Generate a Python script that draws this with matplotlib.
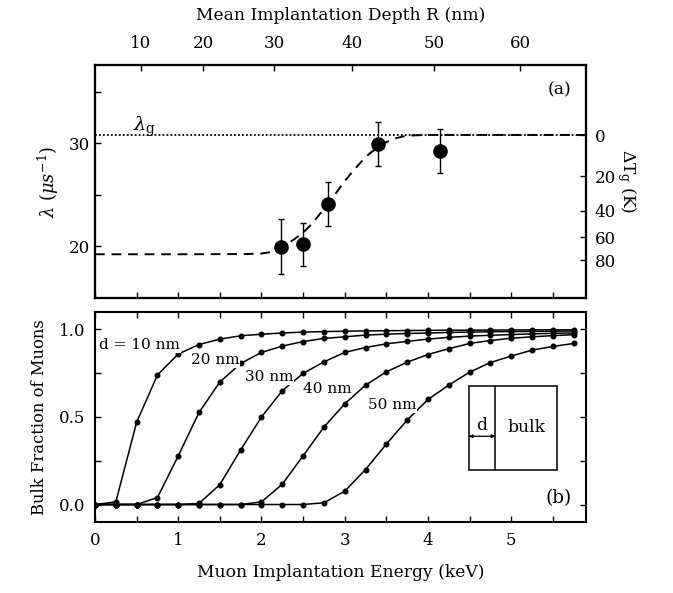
import numpy as np
import matplotlib
matplotlib.use('Agg')
import matplotlib.pyplot as plt
from matplotlib.patches import Rectangle
from matplotlib.ticker import MultipleLocator, FixedLocator, NullFormatter

plt.rcParams['font.family'] = 'DejaVu Serif'
plt.rcParams['mathtext.fontset'] = 'dejavuserif'

# ---- panel (a): relaxation rate vs energy
energy_a = [2.24, 2.50, 2.80, 3.40, 4.14]
lam_a = [19.93, 20.15, 24.08, 29.93, 29.25]
lam_err = [2.65, 2.1, 2.1, 2.15, 2.15]

# dashed model curve
fit_e = [0.0, 1.0, 1.8, 2.0, 2.1, 2.2, 2.3, 2.4, 2.5, 2.6, 2.7, 2.8, 2.9, 3.0,
         3.1, 3.2, 3.3, 3.4, 3.5, 3.6, 3.7, 3.8, 4.0, 5.9]
fit_lam = [19.2, 19.2, 19.22, 19.27, 19.4, 19.75, 20.15, 20.7, 21.3, 22.1, 23.1,
           24.1, 25.2, 26.3, 27.3, 28.2, 29.0, 29.6, 30.1, 30.45, 30.65, 30.75,
           30.8, 30.8]
lambda_g = 30.8

# top axis: mean implantation depth
depth_ticks_e = [0.55, 1.30, 2.15, 3.09, 4.07, 5.11]
depth_labels = ['10', '20', '30', '40', '50', '60']

# right axis: Delta T_g
dT_ticks_lam = [30.78, 26.78, 23.42, 20.84, 18.64]
dT_labels = ['0', '20', '40', '60', '80']

# ---- panel (b): bulk fraction
energy_b = np.arange(24) * 0.25
frac_10 = [0, 0.015, 0.47, 0.74, 0.86, 0.914, 0.945, 0.964, 0.973, 0.98, 0.985, 0.988,
           0.99, 0.992, 0.993, 0.994, 0.995, 0.996, 0.996, 0.997, 0.997, 0.998, 0.998, 0.998]
frac_20 = [0, 0, 0, 0.04, 0.278, 0.526, 0.70, 0.806, 0.869, 0.905, 0.931, 0.949,
           0.958, 0.968, 0.973, 0.977, 0.980, 0.983, 0.985, 0.987, 0.988, 0.989, 0.99, 0.991]
frac_30 = [0, 0, 0, 0, 0, 0.006, 0.114, 0.312, 0.50, 0.65, 0.749, 0.815,
           0.869, 0.897, 0.918, 0.932, 0.945, 0.955, 0.962, 0.967, 0.971, 0.975, 0.978, 0.98]
frac_40 = [0, 0, 0, 0, 0, 0, 0, 0, 0.015, 0.116, 0.278, 0.442,
           0.575, 0.682, 0.758, 0.813, 0.857, 0.89, 0.92, 0.937, 0.95, 0.958, 0.965, 0.97]
frac_50 = [0, 0, 0, 0, 0, 0, 0, 0, 0, 0, 0, 0.01,
           0.076, 0.20, 0.345, 0.482, 0.60, 0.682, 0.756, 0.811, 0.848, 0.882, 0.903, 0.92]
curves = [frac_10, frac_20, frac_30, frac_40, frac_50]
curve_labels = ['d = 10 nm', '20 nm', '30 nm', '40 nm', '50 nm']
label_pos = [(0.05, 0.91), (1.15, 0.825), (1.80, 0.73), (2.50, 0.66), (3.28, 0.57)]

xmax = 5.9
fs_tick = 12
fs_lab = 12.3

fig = plt.figure(figsize=(6.73, 5.93), dpi=100)
ax_a = fig.add_axes([0.1412, 0.4975, 0.7296, 0.3929])
ax_b = fig.add_axes([0.1412, 0.1197, 0.7296, 0.3542])

# panel (a)
ax_a.axhline(lambda_g, color='black', ls=(0, (1, 1.2)), lw=1.3)
ax_a.plot(fit_e, fit_lam, color='black', ls=(0, (5, 3.5)), lw=1.4)
ax_a.errorbar(energy_a, lam_a, yerr=lam_err, fmt='o', color='black', ms=9.5,
              capsize=2.5, elinewidth=1.0, capthick=1.0)
ax_a.set_xlim(0, xmax)
ax_a.set_ylim(14.95, 37.6)
ax_a.yaxis.set_major_locator(FixedLocator([20, 30]))
ax_a.yaxis.set_minor_locator(FixedLocator([25, 35]))
ax_a.xaxis.set_major_locator(MultipleLocator(0.5))
ax_a.xaxis.set_major_formatter(NullFormatter())
ax_a.tick_params(which='both', direction='in', length=4, width=1,
                 top=False, right=False, labelsize=fs_tick)
ax_a.set_ylabel(r'$\lambda\ (\mu s^{-1})$', fontsize=fs_lab + 0.5, labelpad=6)
ax_a.text(0.46, 31.15, r'$\lambda_\mathrm{g}$', fontsize=14)
ax_a.text(0.97, 0.93, '(a)', transform=ax_a.transAxes, ha='right', va='top', fontsize=fs_lab)

top = ax_a.twiny()
top.set_xlim(ax_a.get_xlim())
top.set_xticks(depth_ticks_e)
top.set_xticklabels(depth_labels)
top.tick_params(direction='in', length=4, width=1, labelsize=fs_tick, pad=9)
top.set_xlabel('Mean Implantation Depth R (nm)', fontsize=fs_lab, labelpad=11)

right = ax_a.twinx()
right.set_ylim(ax_a.get_ylim())
right.set_yticks(dT_ticks_lam)
right.set_yticklabels(dT_labels)
right.tick_params(direction='in', length=4, width=1, labelsize=fs_tick, pad=6)
right.set_ylabel(r'$\Delta\mathrm{T}_\mathrm{g}$ (K)', fontsize=fs_lab, rotation=270, labelpad=16)

# panel (b)
for frac, lab, pos in zip(curves, curve_labels, label_pos):
    ax_b.plot(energy_b, frac, color='black', lw=1.1, marker='o', ms=3.3)
    ax_b.text(pos[0], pos[1], lab, fontsize=11, va='center', ha='left',
              bbox=dict(facecolor='white', edgecolor='none', pad=0.5))
ax_b.set_xlim(0, xmax)
ax_b.set_ylim(-0.1, 1.1)
ax_b.xaxis.set_major_locator(MultipleLocator(1))
ax_b.xaxis.set_minor_locator(MultipleLocator(0.5))
ax_b.yaxis.set_major_locator(MultipleLocator(0.5))
ax_b.yaxis.set_minor_locator(MultipleLocator(0.25))
ax_b.tick_params(which='both', direction='in', length=4, width=1,
                 top=True, right=True, labelsize=fs_tick, pad=7)
ax_b.set_ylabel('Bulk Fraction of Muons', fontsize=fs_lab - 0.5, labelpad=8)
ax_b.set_xlabel('Muon Implantation Energy (keV)', fontsize=fs_lab, labelpad=11)
ax_b.text(0.97, 0.07, '(b)', transform=ax_b.transAxes, ha='right', va='bottom', fontsize=fs_lab + 1)

# inset sketch: surface layer d and bulk
ax_b.add_patch(Rectangle((4.49, 0.20), 5.55 - 4.49, 0.676 - 0.20, fill=False, lw=1.1, color='black'))
ax_b.plot([4.81, 4.81], [0.20, 0.676], color='black', lw=1.1)
ax_b.annotate('', xy=(4.49, 0.39), xytext=(4.81, 0.39),
              arrowprops=dict(arrowstyle='<|-|>', lw=0.9, color='black',
                              mutation_scale=5, shrinkA=0, shrinkB=0))
ax_b.text(4.65, 0.405, 'd', ha='center', va='bottom', fontsize=fs_lab)
ax_b.text(5.18, 0.44, 'bulk', ha='center', va='center', fontsize=fs_lab)

for a in (ax_a, ax_b, top, right):
    for s in a.spines.values():
        s.set_linewidth(1.5)

fig.savefig('out.png', dpi=100)
